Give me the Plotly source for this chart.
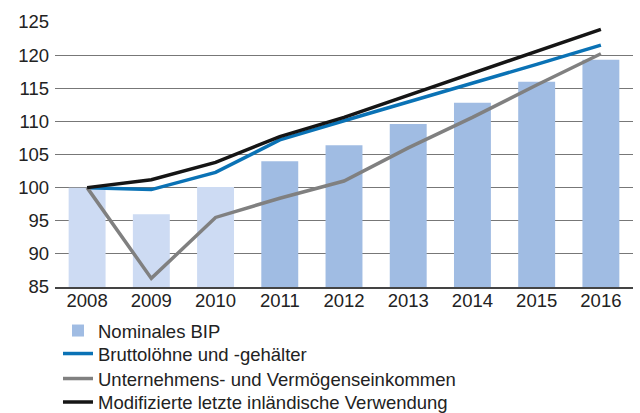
import plotly.graph_objects as go

years = ["2008", "2009", "2010", "2011", "2012", "2013", "2014", "2015", "2016"]
bip = [100.0, 96.0, 100.1, 104.0, 106.4, 109.6, 112.8, 116.0, 119.3]
loehne = [100.0, 99.7, 102.3, 107.2, 110.1, 112.9, 115.7, 118.6, 121.5]
unternehmen = [100.0, 86.3, 95.5, 98.4, 101.0, 106.0, 110.6, 115.5, 120.2]
verwendung = [100.0, 101.2, 103.8, 107.7, 110.6, 113.9, 117.2, 120.5, 123.9]
n_light = 3  # first years drawn lighter

light = "#cddbf3"
medium = "#a0bce3"

fig = go.Figure()
fig.add_trace(go.Bar(x=years[n_light:], y=bip[n_light:], name="Nominales BIP",
                     marker=dict(color=medium, line=dict(width=0)), width=0.575,
                     base=0, showlegend=True, legend="legend"))
fig.add_trace(go.Bar(x=years[:n_light], y=bip[:n_light], name="Nominales BIP",
                     marker=dict(color=light, line=dict(width=0)), width=0.575,
                     base=0, showlegend=False))
fig.add_trace(go.Scatter(x=years, y=loehne, mode="lines", name="Bruttolöhne und -gehälter",
                         line=dict(color="#0a72b5", width=3.5), legend="legend2"))
fig.add_trace(go.Scatter(x=years, y=unternehmen, mode="lines",
                         name="Unternehmens- und Vermögenseinkommen",
                         line=dict(color="#808080", width=3.5), legend="legend3"))
fig.add_trace(go.Scatter(x=years, y=verwendung, mode="lines",
                         name="Modifizierte letzte inländische Verwendung",
                         line=dict(color="#151515", width=3.5), legend="legend4"))

def leg(top_px):
    return dict(orientation="v", xref="container", yref="container",
                x=0.0906, xanchor="left", y=1 - top_px / 413, yanchor="top",
                font=dict(size=18.5, color="#222222"),
                itemwidth=30, bgcolor="rgba(0,0,0,0)")

fig.update_layout(
    width=640, height=413,
    margin=dict(l=55, r=7, t=22, b=126, autoexpand=False),
    paper_bgcolor="white", plot_bgcolor="white",
    barmode="overlay",
    font=dict(family="Liberation Sans, Arial, sans-serif", size=18, color="#222222"),
    showlegend=True,
    legend=leg(312), legend2=leg(335), legend3=leg(360), legend4=leg(383.5),
    xaxis=dict(type="category", categoryorder="array", categoryarray=years,
               range=[-0.5, 8.5], showgrid=False, ticks="",
               showline=True, linecolor="#444444", linewidth=2,
               tickfont=dict(size=18.5), ticklabelstandoff=-4),
    yaxis=dict(range=[85, 125], tick0=85, dtick=5, showgrid=True,
               gridcolor="#777777", gridwidth=1, zeroline=False, ticks="",
               showline=False, tickfont=dict(size=18.5), ticklabelstandoff=5),
)

fig.write_html("out.html", config={"displayModeBar": False},
               post_script="document.body.style.margin='0';document.body.style.overflow='hidden';")
